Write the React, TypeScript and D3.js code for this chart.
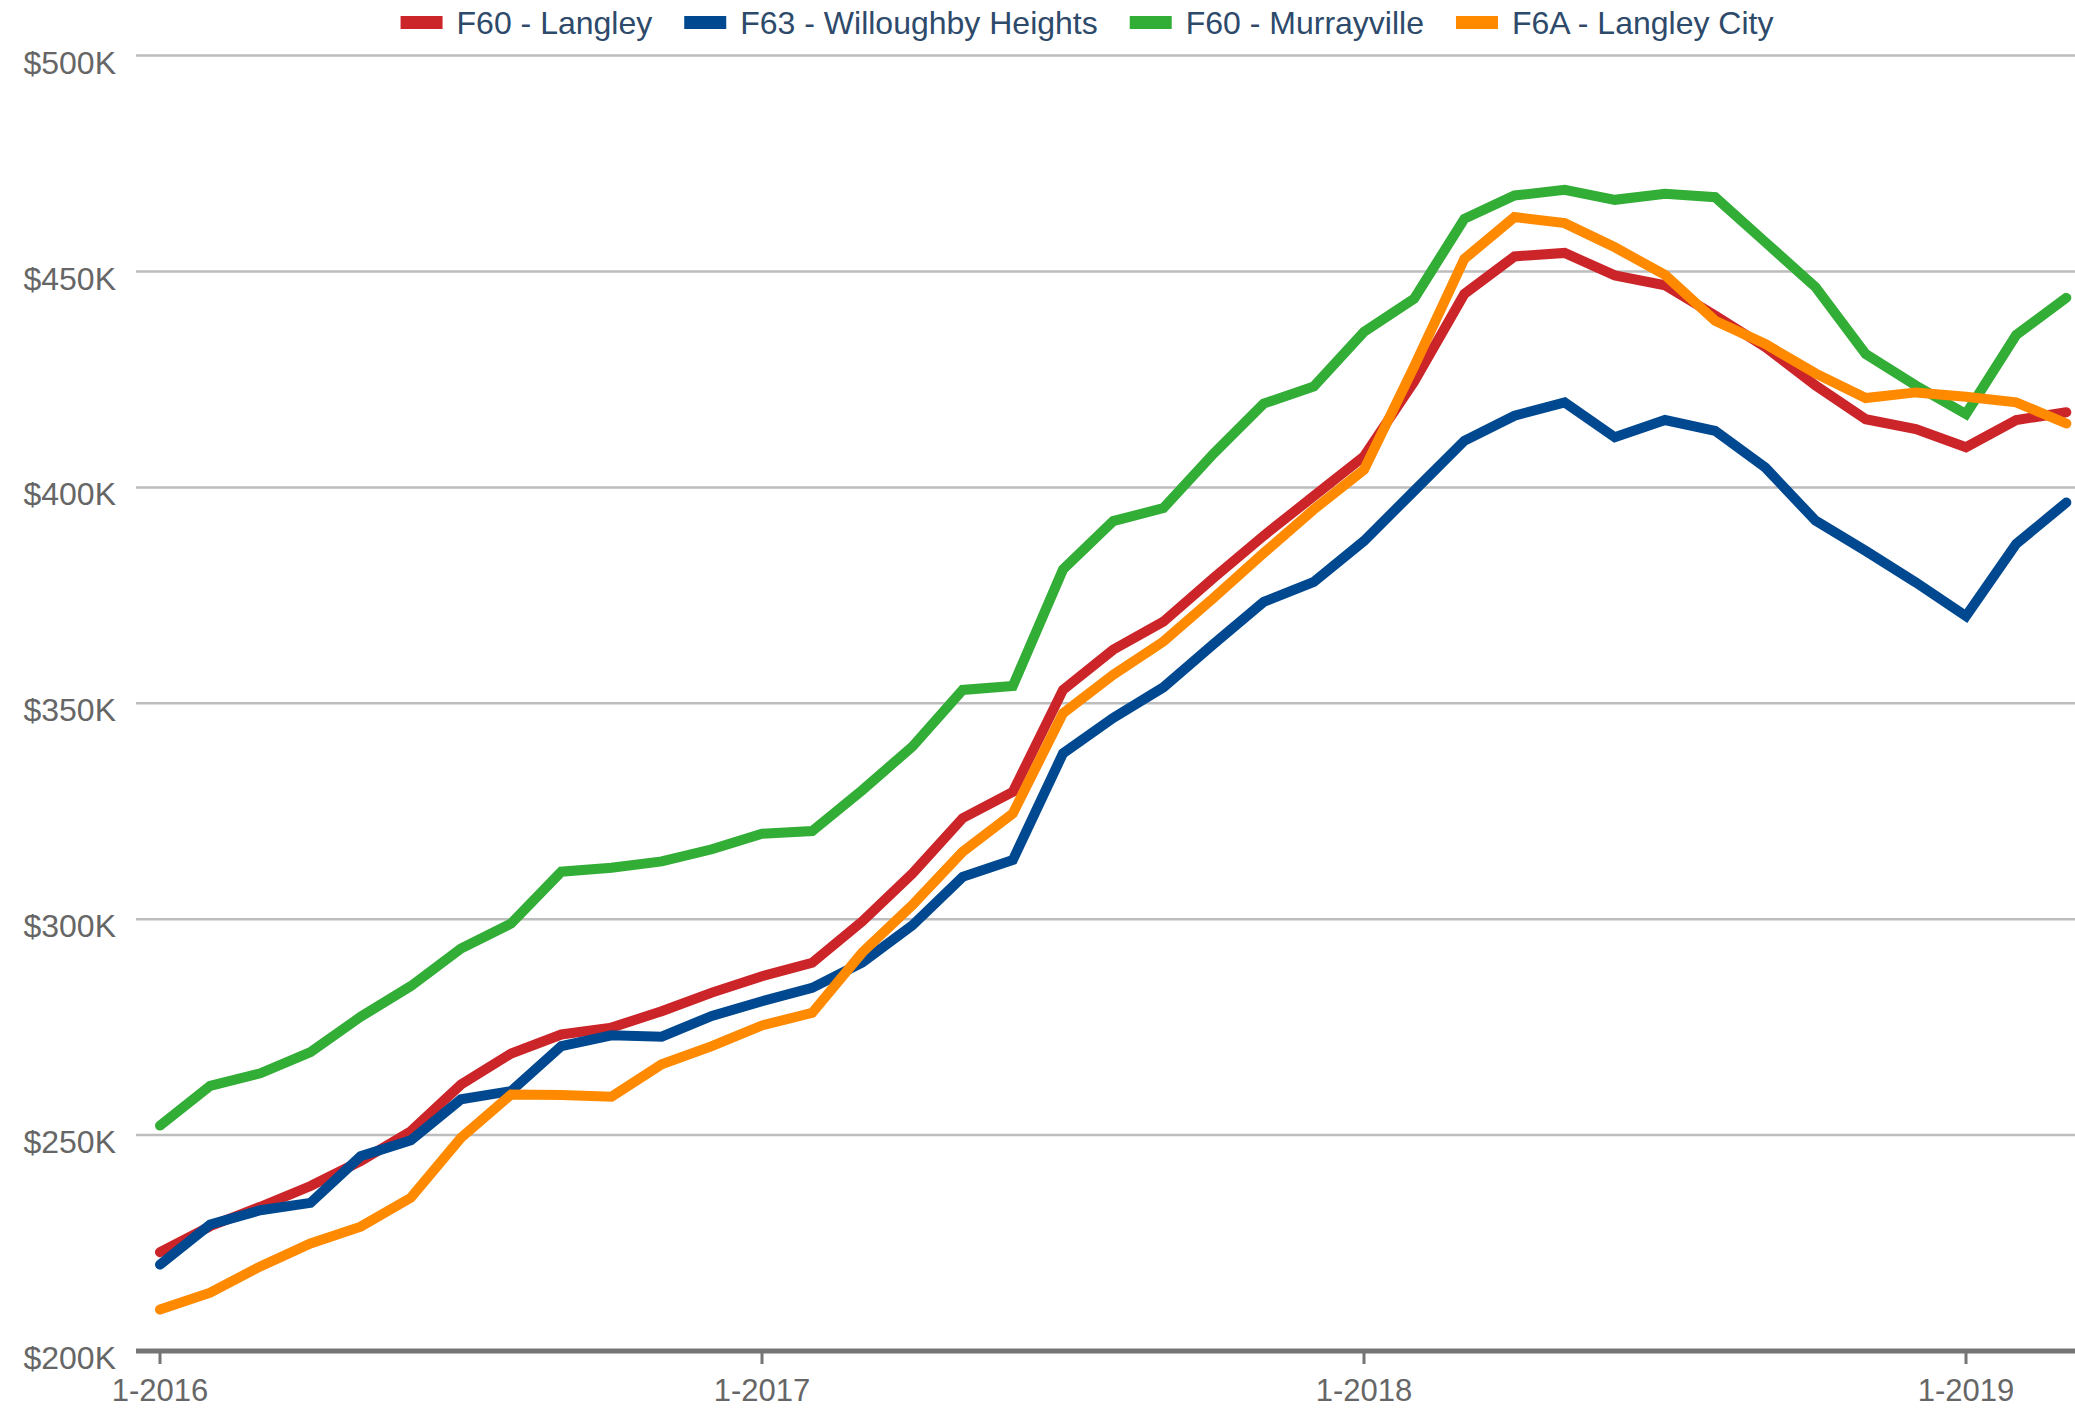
import React, { useEffect, useRef } from 'react';
import * as d3 from 'd3';

// monthly benchmark prices, 1-2016 .. 3-2019 (thousands of dollars)
const months = d3.range(39);

const langley = [
  222.9, 228.9, 233.4, 238.2, 244.0, 250.9, 261.7, 268.9, 273.3, 274.9, 278.7, 283.0, 286.8,
  289.9, 299.5, 310.6, 323.4, 329.5, 353.1, 362.4, 368.9, 379.0, 388.8, 398.0, 407.2, 424.5,
  444.8, 453.5, 454.3, 449.1, 446.8, 439.8, 432.5, 423.6, 415.8, 413.5, 409.3, 415.6, 417.4,
];
const willoughby = [
  220.0, 229.3, 232.6, 234.3, 245.1, 248.8, 258.3, 260.2, 270.6, 273.1, 272.8, 277.6, 281.0,
  284.1, 290.0, 298.6, 309.8, 313.7, 338.4, 346.6, 353.7, 363.7, 373.5, 378.1, 387.6, 399.2,
  410.8, 416.6, 419.7, 411.6, 415.6, 413.1, 404.6, 392.3, 385.3, 378.0, 370.2, 386.9, 396.5,
];
const murrayville = [
  252.2, 261.4, 264.3, 269.2, 277.4, 284.5, 293.2, 299.0, 311.0, 311.9, 313.4, 316.2, 319.8,
  320.4, 329.9, 340.0, 353.1, 354.0, 381.0, 392.2, 395.2, 407.8, 419.4, 423.4, 436.0, 443.7,
  462.2, 467.6, 468.9, 466.6, 468.0, 467.2, 456.8, 446.4, 430.9, 423.6, 417.0, 435.3, 443.9,
];
const langleyCity = [
  209.6, 213.5, 219.6, 224.9, 228.8, 235.5, 249.4, 259.4, 259.3, 258.9, 266.4, 270.6, 275.4,
  278.3, 292.3, 303.3, 315.6, 324.5, 347.7, 356.6, 364.3, 374.4, 384.8, 394.9, 404.1, 428.0,
  452.9, 462.6, 461.2, 455.6, 449.2, 438.6, 433.2, 426.4, 420.7, 422.0, 421.0, 419.7, 414.8,
];

const seriesNames = ['F60 - Langley', 'F63 - Willoughby Heights', 'F60 - Murrayville', 'F6A - Langley City'];
const seriesValues = [langley, willoughby, murrayville, langleyCity];
const seriesColors = ['#cc2529', '#00488f', '#32ad36', '#ff8a00'];

const yTicks = [200, 250, 300, 350, 400, 450, 500];
const xTickIndex = [0, 12, 24, 36];
const xTickLabels = ['1-2016', '1-2017', '1-2018', '1-2019'];

const W = 2075;
const H = 1409;
const FONT = '"Liberation Sans", Arial, sans-serif';

const App: React.FC = () => {
  const ref = useRef<SVGSVGElement>(null);

  useEffect(() => {
    if (!ref.current) return;
    const svg = d3.select(ref.current);
    svg.selectAll('*').remove();

    const left = 136;
    const x = d3.scaleLinear().domain([0, 36]).range([160, 1966]);
    const y = d3.scaleLinear().domain([200, 500]).range([1351, 55.6]);

    // gridlines + y labels
    svg.append('g')
      .selectAll('line')
      .data(yTicks.slice(1))
      .enter()
      .append('line')
      .attr('x1', left)
      .attr('x2', W)
      .attr('y1', d => y(d))
      .attr('y2', d => y(d))
      .attr('stroke', '#bdbdbd')
      .attr('stroke-width', 2.5);

    svg.append('g')
      .selectAll('text')
      .data(yTicks)
      .enter()
      .append('text')
      .attr('x', 116)
      .attr('y', d => y(d) + 18)
      .attr('text-anchor', 'end')
      .attr('font-family', FONT)
      .attr('font-size', 32)
      .attr('fill', '#666')
      .text(d => `$${d}K`);

    // x axis
    svg.append('line')
      .attr('x1', left)
      .attr('x2', W)
      .attr('y1', y(200))
      .attr('y2', y(200))
      .attr('stroke', '#757575')
      .attr('stroke-width', 5);

    const xt = svg.append('g')
      .selectAll('g')
      .data(xTickIndex)
      .enter()
      .append('g')
      .attr('transform', d => `translate(${x(d)},${y(200)})`);
    xt.append('line')
      .attr('y1', 0)
      .attr('y2', 13)
      .attr('stroke', '#757575')
      .attr('stroke-width', 3);
    xt.append('text')
      .attr('y', 50)
      .attr('text-anchor', 'middle')
      .attr('font-family', FONT)
      .attr('font-size', 31)
      .attr('fill', '#666')
      .text((d, i) => xTickLabels[i]);

    // lines
    const line = d3.line<number>()
      .x((d, i) => x(months[i]))
      .y(d => y(d));

    svg.append('g')
      .selectAll('path')
      .data(seriesValues)
      .enter()
      .append('path')
      .attr('d', d => line(d))
      .attr('fill', 'none')
      .attr('stroke', (d, i) => seriesColors[i])
      .attr('stroke-width', 10)
      .attr('stroke-linecap', 'round')
      .attr('stroke-linejoin', 'miter');

    // legend, laid out by measured text widths
    const legend = svg.append('g');
    let cx = 0;
    seriesNames.forEach((name, i) => {
      const item = legend.append('g').attr('transform', `translate(${cx},0)`);
      item.append('rect')
        .attr('x', 0)
        .attr('y', 16)
        .attr('width', 42)
        .attr('height', 13)
        .attr('fill', seriesColors[i]);
      const t = item.append('text')
        .attr('x', 56)
        .attr('y', 34)
        .attr('font-family', FONT)
        .attr('font-size', 32)
        .attr('fill', '#2d4a6b')
        .text(name);
      const w = (t.node() as SVGTextElement).getComputedTextLength();
      cx += 56 + w + 32;
    });
    const total = cx - 32;
    legend.attr('transform', `translate(${1087 - total / 2},0)`);
  }, []);

  return (
    <svg
      ref={ref}
      width={W}
      height={H}
      style={{ position: 'absolute', left: 0, top: 0, background: '#fff' }}
    ></svg>
  );
};

export default App;
